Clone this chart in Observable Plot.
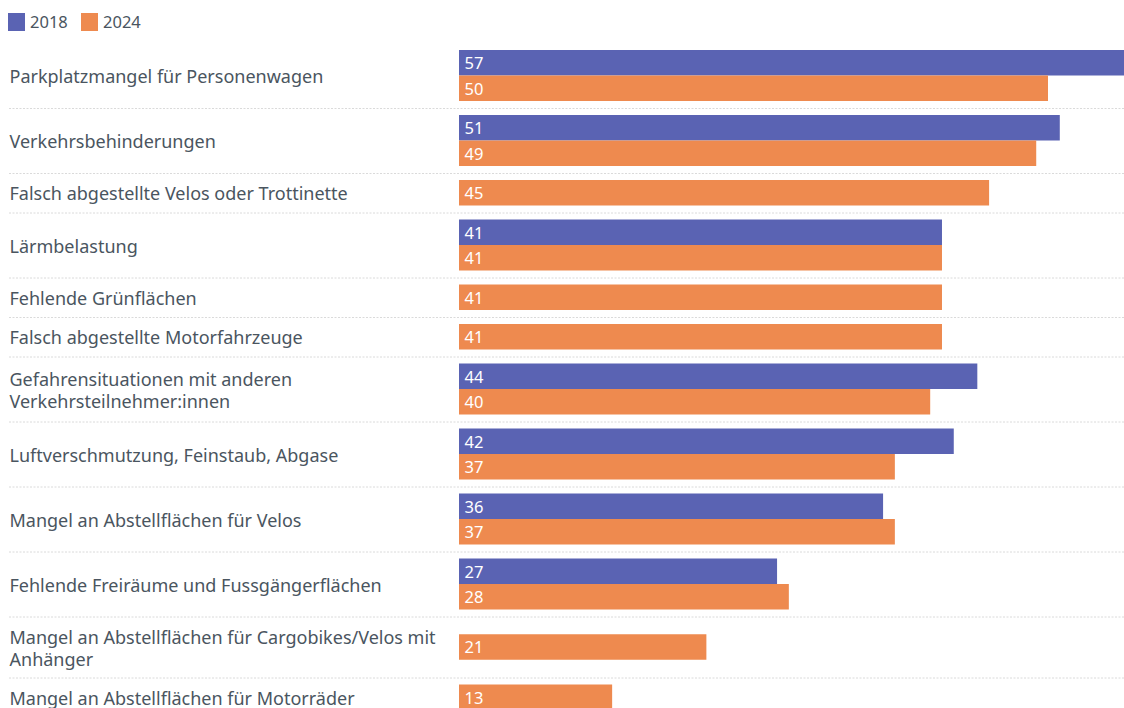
<!DOCTYPE html>
<html>
<head>
<meta charset="utf-8">
<script src="https://cdn.jsdelivr.net/npm/d3@7"></script>
<script src="https://cdn.jsdelivr.net/npm/@observablehq/plot@0.6"></script>
<style>
  html, body { margin: 0; padding: 0; background: #fff; overflow: hidden; }
  body { font-family: "Noto Sans", sans-serif; width: 1124px; height: 708px; }
  #legend { height: 43px; position: relative; font-size: 16.5px; color: #4a5560; }
  #legend .item { position: absolute; top: 10px; display: flex; align-items: center; }
  #legend .sw { width: 17px; height: 18px; display: inline-block; margin-right: 5px; }
  svg { display: block; overflow: hidden; }
</style>
</head>
<body>
<div id="legend"></div>
<div id="chart"></div>
<script>
const categories = [
  "Parkplatzmangel für Personenwagen",
  "Verkehrsbehinderungen",
  "Falsch abgestellte Velos oder Trottinette",
  "Lärmbelastung",
  "Fehlende Grünflächen",
  "Falsch abgestellte Motorfahrzeuge",
  "Gefahrensituationen mit anderen\nVerkehrsteilnehmer:innen",
  "Luftverschmutzung, Feinstaub, Abgase",
  "Mangel an Abstellflächen für Velos",
  "Fehlende Freiräume und Fussgängerflächen",
  "Mangel an Abstellflächen für Cargobikes/Velos mit\nAnhänger",
  "Mangel an Abstellflächen für Motorräder"
];
const years = ["2018", "2024"];
const values2018 = [57, 51, null, 41, null, null, 44, 42, 36, 27, null, null];
const values2024 = [50, 49, 45, 41, 41, 41, 40, 37, 37, 28, 21, 13];
const colors = ["#5a63b3", "#ee8a4f"];

// layout (pixels) derived from the data
const barH = 25.5, rowPad = 14, lineH = 22, labelPad = 17;
const rows = [];
const bars = [];
let cursor = 0;
categories.forEach((cat, i) => {
  const vals = [values2018[i], values2024[i]];
  const present = years.map((y, j) => ({year: y, value: vals[j]})).filter(d => d.value != null);
  const lines = cat.split("\n").length;
  const h = Math.max(present.length * barH + rowPad, lines * lineH + labelPad);
  const mid = cursor + h / 2;
  const start = mid - present.length * barH / 2;
  present.forEach((d, k) => {
    bars.push({category: cat, year: d.year, value: d.value, y1: start + k * barH, y2: start + (k + 1) * barH});
  });
  rows.push({category: cat, top: cursor, bottom: cursor + h, mid, last: i === categories.length - 1});
  cursor += h;
});

const W = 1124, H = 665;
const pxPerUnit = 11.78;
const marginLeft = 459;
const xMax = (W - marginLeft) / pxPerUnit;

// legend
const legend = document.getElementById("legend");
[[8, 0], [81, 1]].forEach(([left, j]) => {
  const el = document.createElement("div");
  el.className = "item";
  el.style.left = left + "px";
  el.innerHTML = `<span class="sw" style="background:${colors[j]}"></span><span>${years[j]}</span>`;
  legend.appendChild(el);
});

const chart = Plot.plot({
  width: W,
  height: H,
  marginLeft,
  marginRight: 0,
  marginTop: 0,
  marginBottom: 0,
  style: {fontFamily: "Noto Sans, sans-serif", overflow: "hidden"},
  x: {domain: [0, xMax], axis: null},
  y: {domain: [0, H], range: [0, H], axis: null},
  color: {domain: years, range: colors},
  marks: [
    Plot.ruleY(rows.filter(r => !r.last), {y: "bottom", stroke: "#dadada", strokeDasharray: "2,1.5", insetLeft: -450, strokeWidth: 1}),
    Plot.rect(bars, {x1: 0, x2: "value", y1: "y1", y2: "y2", fill: "year"}),
    Plot.text(bars, {x: 0, y: d => (d.y1 + d.y2) / 2 + 0.5, text: d => String(d.value), fill: "white", textAnchor: "start", dx: 5, fontSize: 16.5}),
    Plot.text(rows, {frameAnchor: "left", y: "mid", text: "category", textAnchor: "start", dx: -450, fill: "#4a5560", fontSize: 18, lineHeight: 1.22, letterSpacing: "0.15px"})
  ]
});
document.getElementById("chart").appendChild(chart);
</script>
</body>
</html>
